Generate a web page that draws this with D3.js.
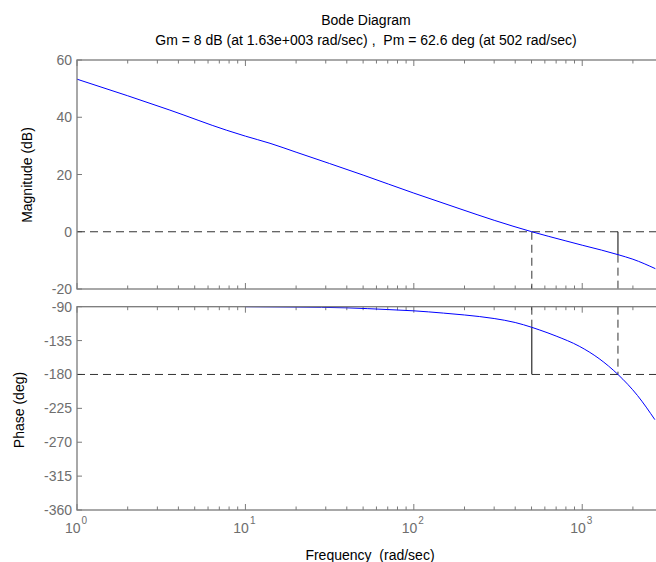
<!DOCTYPE html>
<html>
<head>
<meta charset="utf-8">
<script src="https://cdn.jsdelivr.net/npm/d3@7"></script>
<style>
    body { margin: 0; background: #fff; }
    svg { display: block; font-family: "Liberation Sans", Arial, sans-serif; }
</style>
</head>
<body>
<svg id="chart" width="656" height="562"></svg>
<script>
// magnitude curve: frequency (rad/sec) and dB
const magFreq = [1, 2, 3.56, 7.7, 10, 14, 20, 50, 100, 188, 300, 502, 800, 1000, 1300, 1630, 2000, 2720];
const magDb = [53.3, 47.5, 42.5, 35.5, 33.4, 30.9, 27.8, 19.8, 13.5, 8.0, 4.0, 0, -3.2, -4.7, -6.4, -8.0, -9.6, -12.9];

// phase curve: frequency (rad/sec) and degrees
const phaseFreq = [10, 20, 40, 70, 100, 150, 200, 300, 400, 502, 560, 700, 960, 1260, 1630, 2130, 2700];
const phaseDeg = [-90, -90.5, -91.5, -93.8, -95.5, -98.5, -101, -105.7, -111, -117.4, -121, -129, -142.5, -159, -180, -208, -240];

// margins
const gmFreq = 1630, gmDb = -8;
const pmFreq = 502, pmDeg = -117.4;

const magTicks = [60, 40, 20, 0, -20];
const phaseTicks = [-90, -135, -180, -225, -270, -315, -360];
const decades = [1, 10, 100, 1000];

const svg = d3.select("#chart");
const left = 77, right = 657;

const x = d3.scaleLog().domain([1, 2780]).range([left, right]);
const yMag = d3.scaleLinear().domain([-20, 60]).range([289, 60]);
const yPhase = d3.scaleLinear().domain([-360, -90]).range([510, 306.7]);

const axisCol = "#7a7a7a";
const labelCol = "#6e6e6e";
const fontSize = 14;

const minorTicks = [];
decades.forEach(d => {
    for (let k = 2; k <= 9; k++) {
        if (d * k <= 2780) minorTicks.push(d * k);
    }
});

const drawPanel = (y, ticks, dom) => {
    const g = svg.append("g");
    const [y0, y1] = [y(dom[0]), y(dom[1])];

    // x ticks at top and bottom, inward
    [[y1, 1], [y0, -1]].forEach(([yy, dir]) => {
        g.selectAll(null).data(decades).join("line")
            .attr("x1", d => x(d)).attr("x2", d => x(d))
            .attr("y1", yy).attr("y2", yy + dir * 6)
            .attr("stroke", axisCol);
        g.selectAll(null).data(minorTicks).join("line")
            .attr("x1", d => x(d)).attr("x2", d => x(d))
            .attr("y1", yy).attr("y2", yy + dir * 3.5)
            .attr("stroke", axisCol);
    });

    // y ticks inward on left
    g.selectAll(null).data(ticks).join("line")
        .attr("x1", left).attr("x2", left + 5)
        .attr("y1", d => y(d)).attr("y2", d => y(d))
        .attr("stroke", axisCol);

    g.selectAll(null).data(ticks).join("text")
        .attr("x", left - 5)
        .attr("y", d => y(d) + 5)
        .attr("text-anchor", "end")
        .attr("font-size", fontSize)
        .attr("fill", labelCol)
        .text(d => d);

    return g;
};

const dashed = (x1, y1, x2, y2, solid) => svg.append("line")
    .attr("x1", x1).attr("y1", y1).attr("x2", x2).attr("y2", y2)
    .attr("stroke", solid ? "#000" : "#333")
    .attr("stroke-width", 1)
    .attr("stroke-dasharray", solid ? null : "8,5");

drawPanel(yMag, magTicks, [-20, 60]);
drawPanel(yPhase, phaseTicks, [-360, -90]);

// margin guide lines
dashed(left, yMag(0), right, yMag(0));
dashed(x(pmFreq), yMag(0), x(pmFreq), yMag(-20));
dashed(x(gmFreq), yMag(gmDb), x(gmFreq), yMag(-20));
dashed(x(gmFreq), yMag(0), x(gmFreq), yMag(gmDb), true);

dashed(left, yPhase(-180), right, yPhase(-180));
dashed(x(gmFreq), yPhase(-90), x(gmFreq), yPhase(-180));
dashed(x(pmFreq), yPhase(-90), x(pmFreq), yPhase(pmDeg));
dashed(x(pmFreq), yPhase(pmDeg), x(pmFreq), yPhase(-180), true);

// curves
const magLine = d3.line().x(d => x(d[0])).y(d => yMag(d[1])).curve(d3.curveMonotoneX);
const phaseLine = d3.line().x(d => x(d[0])).y(d => yPhase(d[1])).curve(d3.curveMonotoneX);

svg.append("path")
    .datum(d3.zip(magFreq, magDb))
    .attr("d", magLine)
    .attr("fill", "none")
    .attr("stroke", "#0000ff")
    .attr("stroke-width", 1);

svg.append("path")
    .datum(d3.zip(phaseFreq, phaseDeg))
    .attr("d", phaseLine)
    .attr("fill", "none")
    .attr("stroke", "#0000ff")
    .attr("stroke-width", 1);

// axes frames
[[yMag, [-20, 60]], [yPhase, [-360, -90]]].forEach(([y, dom]) => {
    svg.append("rect")
        .attr("x", left).attr("y", y(dom[1]))
        .attr("width", right - left).attr("height", y(dom[0]) - y(dom[1]))
        .attr("fill", "none")
        .attr("stroke", axisCol)
        .attr("stroke-width", 1.3);
});

// decade labels as 10 with superscript
const xLab = svg.append("g").selectAll("text").data(decades).join("text")
    .attr("x", d => x(d) - 1)
    .attr("y", 533)
    .attr("text-anchor", "middle")
    .attr("font-size", fontSize)
    .attr("fill", labelCol);
xLab.append("tspan").text("10");
xLab.append("tspan")
    .attr("dx", 1)
    .attr("dy", -9)
    .attr("font-size", 10)
    .text(d => Math.round(Math.log10(d)));

// titles and axis labels
svg.append("text")
    .attr("x", 366).attr("y", 25)
    .attr("text-anchor", "middle")
    .attr("font-size", fontSize)
    .text("Bode Diagram");

svg.append("text")
    .attr("x", 366).attr("y", 45)
    .attr("text-anchor", "middle")
    .attr("font-size", fontSize)
    .attr("xml:space", "preserve")
    .style("white-space", "pre")
    .text("Gm = 8 dB (at 1.63e+003 rad/sec) ,  Pm = 62.6 deg (at 502 rad/sec)");

svg.append("text")
    .attr("x", 370).attr("y", 560)
    .attr("text-anchor", "middle")
    .attr("font-size", fontSize)
    .style("white-space", "pre")
    .text("Frequency  (rad/sec)");

svg.append("text")
    .attr("transform", "translate(32,175) rotate(-90)")
    .attr("text-anchor", "middle")
    .attr("font-size", fontSize)
    .text("Magnitude (dB)");

svg.append("text")
    .attr("transform", "translate(24,410) rotate(-90)")
    .attr("text-anchor", "middle")
    .attr("font-size", fontSize)
    .text("Phase (deg)");
</script>
</body>
</html>
